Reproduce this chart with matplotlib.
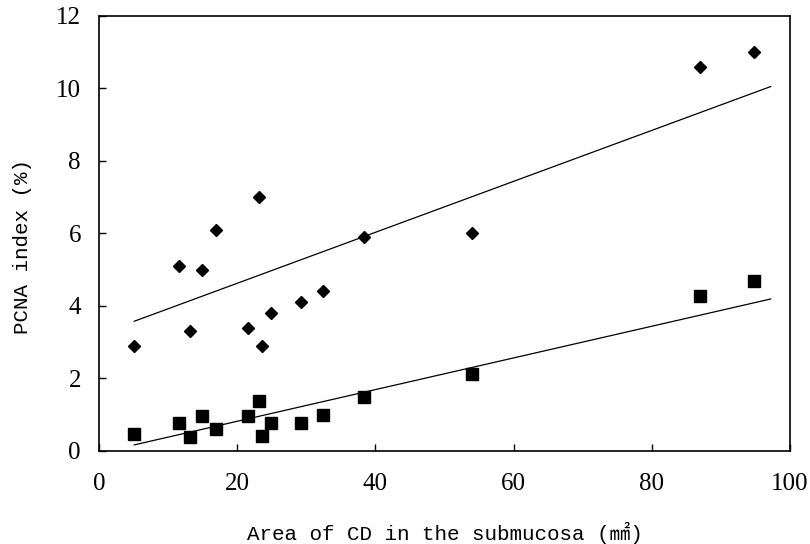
import numpy as np
import matplotlib
matplotlib.use("Agg")
import matplotlib.pyplot as plt

# CD area (mm^2) shared by both series
area = [5.0, 11.6, 13.1, 14.9, 17.0, 21.6, 23.1, 23.6, 24.9, 29.3, 32.4, 38.3, 54.0, 87.0, 94.8]
# PCNA index (%) - diamonds (upper group) and squares (lower group)
pcna_diamond = [2.9, 5.1, 3.3, 5.0, 6.1, 3.4, 7.0, 2.9, 3.8, 4.1, 4.4, 5.9, 6.0, 10.6, 11.0]
pcna_square = [0.46, 0.76, 0.39, 0.97, 0.60, 0.97, 1.39, 0.41, 0.78, 0.78, 0.99, 1.48, 2.11, 4.28, 4.70]

# trend lines as drawn in the figure: (slope, intercept) and x range
trend_diamond = (0.0703, 3.22)
trend_square = (0.0437, -0.055)
trend_range = [5.1, 97.2]

x_ticks = [0, 20, 40, 60, 80, 100]
y_ticks = [0, 2, 4, 6, 8, 10, 12]

fig = plt.figure(figsize=(8.1, 5.44), dpi=100)
ax = fig.add_axes([0.1222, 0.171, 0.8531, 0.7996])

tx = np.array(trend_range)
ax.plot(tx, trend_diamond[0] * tx + trend_diamond[1], color="black", lw=0.9)
ax.plot(tx, trend_square[0] * tx + trend_square[1], color="black", lw=0.9)

ax.plot(area, pcna_diamond, linestyle="none", marker="D", ms=6.6, color="black")
ax.plot(area, pcna_square, linestyle="none", marker="s", ms=8.6, color="black")

ax.set_xlim(0, 100)
ax.set_ylim(0, 12)
ax.set_xticks(x_ticks)
ax.set_yticks(y_ticks)

for s in ax.spines.values():
    s.set_linewidth(1.2)

ax.tick_params(axis="both", direction="in", length=5, width=1.0,
               top=False, right=False)
ax.tick_params(axis="x", pad=16)
ax.tick_params(axis="y", pad=13)
for lab in ax.get_xticklabels() + ax.get_yticklabels():
    lab.set_fontfamily("Liberation Serif")
    lab.set_fontsize(18)

label_font = ["Liberation Mono", "Noto Sans CJK SC"]
ax.set_xlabel("Area of CD in the submucosa (\u339f)", family=label_font,
              fontsize=15, labelpad=19)
ax.set_ylabel("PCNA index (%)", family=label_font, fontsize=15)
ax.yaxis.set_label_coords(-0.097, 0.471)

fig.savefig("out.png", dpi=100)
